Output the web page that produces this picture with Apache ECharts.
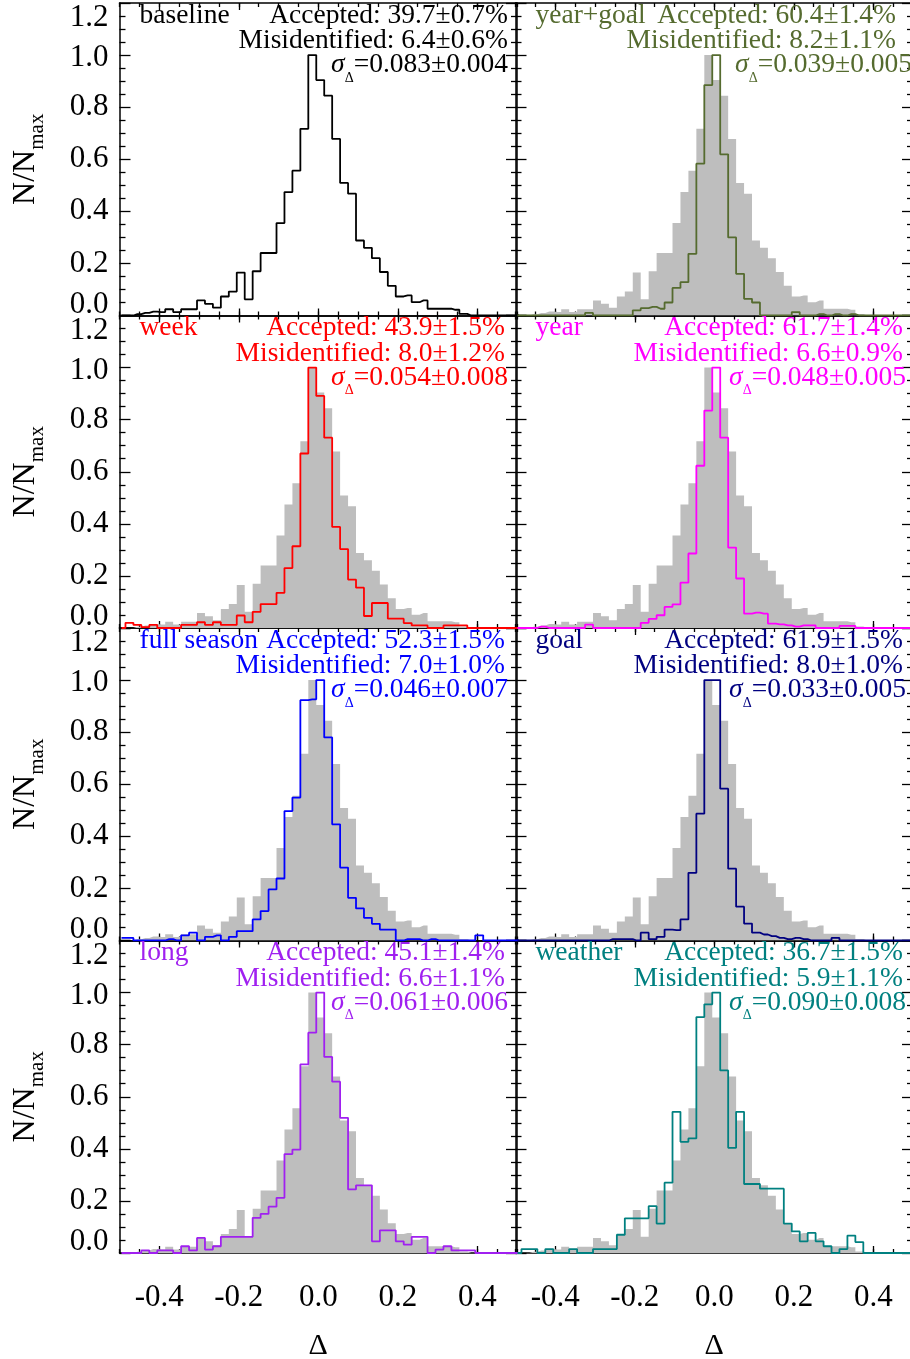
<!DOCTYPE html>
<html><head><meta charset="utf-8">
<script src="https://cdn.jsdelivr.net/npm/echarts@6/dist/echarts.min.js"></script>
<style>html,body{margin:0;padding:0;background:#fff}#c{width:910px;height:1359px}</style>
</head><body><div id="c"></div>
<script>
// ---- data (bin centres of the 0.02-wide histogram bins) ----
const binCenters = [-0.495,-0.475,-0.455,-0.435,-0.415,-0.395,-0.375,-0.355,-0.335,-0.315,
  -0.295,-0.275,-0.255,-0.235,-0.215,-0.195,-0.175,-0.155,-0.135,-0.115,
  -0.095,-0.075,-0.055,-0.035,-0.015,0.005,0.025,0.045,0.065,0.085,
  0.105,0.125,0.145,0.165,0.185,0.205,0.225,0.245,0.265,0.285,
  0.305,0.325,0.345,0.365,0.385,0.405,0.425,0.445,0.465,0.485,0.505];

const baseline = [0,0,0.005,0.01,0.015,0.013,0.024,0.013,0.024,0.024,
  0.058,0.045,0.03,0.073,0.092,0.165,0.062,0.17,0.24,0.24,
  0.355,0.474,0.556,0.717,1.0,0.904,0.844,0.678,0.509,0.468,
  0.288,0.26,0.22,0.167,0.114,0.073,0.077,0.051,0.058,0.026,
  0.026,0.026,0.022,0.006,0,0,0,0,0,0,0];

const yearGoal = [0,0,0,0,0,0,0,0,0,0.01,
  0,0,0,0,0,0.02,0.028,0.033,0.026,0.05,
  0.106,0.128,0.237,0.583,0.885,1.0,0.619,0.30,0.16,0.064,
  0.05,0,0,0,0,0.013,0,0,0.005,0,
  0.005,0,0.005,0,0,0,0,0,0,0,0];

const week = [0,0.02,0.012,0.003,0.012,0,0,0,0.012,0.012,
  0.022,0.012,0.022,0.012,0.012,0.048,0.022,0.062,0.092,0.092,
  0.135,0.23,0.314,0.67,1.0,0.891,0.731,0.388,0.303,0.186,
  0.155,0.046,0.096,0.096,0.036,0.036,0.019,0.01,0.01,0,
  0,0.01,0.01,0.01,0,0,0,0,0,0,0];

const year = [0,0,0,0.005,0,0,0,0,0,0.013,
  0,0,0,0,0,0,0.02,0.035,0.049,0.081,
  0.091,0.174,0.286,0.623,0.835,1.0,0.731,0.309,0.19,0.055,
  0.059,0.055,0.017,0.014,0.01,0.005,0.01,0.01,0,0,
  0,0.008,0.008,0,0,0,0,0,0,0,0];

const fullSeason = [0.01,0.01,0,0,0,0,0.005,0,0.02,0.03,
  0,0.014,0.02,0,0.014,0.036,0.036,0.081,0.113,0.196,
  0.238,0.497,0.549,0.923,0.926,1.0,0.78,0.446,0.28,0.164,
  0.123,0.087,0.064,0.042,0.042,0,0.005,0.005,0,0.005,
  0,0,0,0,0,0.02,0,0,0,0,0];

const goal = [0,0,0,0,0,0,0,0,0,0,
  0,0,0.005,0.005,0.005,0,0.03,0.005,0.014,0.042,
  0.04,0.081,0.26,0.487,1.0,1.0,0.583,0.276,0.13,0.065,
  0.03,0.023,0.017,0.01,0.005,0.01,0.005,0,0,0,
  0.01,0,0,0,0,0,0,0,0,0,0];

const longSeries = [0,0,0,0.01,0,0.01,0.01,0,0.026,0.01,
  0.058,0.013,0.026,0.062,0.062,0.062,0.062,0.135,0.15,0.178,
  0.212,0.38,0.397,0.724,0.846,1.0,0.753,0.658,0.519,0.244,
  0.26,0.26,0.045,0.087,0.087,0.045,0.032,0.062,0.062,0,
  0.013,0.026,0.01,0.01,0.01,0,0,0,0,0,0];

const weather = [0,0.015,0.015,0,0.015,0,0,0.015,0,0,
  0.015,0.015,0.015,0.07,0.133,0.133,0.133,0.18,0.113,0.27,
  0.542,0.427,0.44,0.906,0.955,1.0,0.701,0.404,0.542,0.265,
  0.265,0.247,0.247,0.247,0.113,0.083,0.045,0.077,0.045,0.026,
  0,0.015,0.067,0.042,0,0,0,0,0,0,0];

const panelNames = ['baseline','year+goal','week','year','full season','goal','long','weather'];
const acceptedText = ['Accepted: 39.7±0.7%','Accepted: 60.4±1.4%','Accepted: 43.9±1.5%','Accepted: 61.7±1.4%',
  'Accepted: 52.3±1.5%','Accepted: 61.9±1.5%','Accepted: 45.1±1.4%','Accepted: 36.7±1.5%'];
const misidText = ['Misidentified: 6.4±0.6%','Misidentified: 8.2±1.1%','Misidentified: 8.0±1.2%','Misidentified: 6.6±0.9%',
  'Misidentified: 7.0±1.0%','Misidentified: 8.0±1.0%','Misidentified: 6.6±1.1%','Misidentified: 5.9±1.1%'];
const sigmaValue = ['=0.083±0.004','=0.039±0.005','=0.054±0.008','=0.048±0.005',
  '=0.046±0.007','=0.033±0.005','=0.061±0.006','=0.090±0.008'];
const xTickValues = [-0.4,-0.2,0.0,0.2,0.4];
const panelData = [baseline, yearGoal, week, year, fullSeason, goal, longSeries, weather];

// ---- styles / layout ----
const colors = ['#000000','#556B2F','#FF0000','#FF00FF','#0000FF','#000080','#A020F0','#008080'];
const FONT = '"Liberation Serif","Times New Roman",serif';
const colLeft = [119.5, 515.5], gridW = 397.5;
const rowTop = [3, 315.5, 628, 940.5], gridH = 312.5;
const accRight = [508, 896, 505, 903, 505, 903, 505, 903];
const sigRight = [508, 912, 508, 906, 508, 906, 508, 906];

const chart = echarts.init(document.getElementById('c'), null, {renderer:'canvas'});
const grid = [], xAxis = [], yAxis = [], series = [], graphic = [];
const black = {color:'#000', width:1.5};
const tickStyle = {color:'#000', width:1.3};

for (let g = 0; g < 8; g++) {
  const col = g % 2, row = Math.floor(g / 2);
  grid.push({left: colLeft[col], top: rowTop[row], width: gridW, height: gridH,
    containLabel:false, outerBoundsMode:'none'});
  const bottomRow = row === 3;
  const mkMajorX = (pos, showLabel) => ({
    type:'value', gridIndex:g, position:pos, min:-0.5, max:0.5,
    axisLine:{show:true, onZero:false, lineStyle:black},
    axisTick:{show:true, inside:true, length:7, customValues:xTickValues, lineStyle:tickStyle},
    axisLabel:{show:showLabel, customValues:xTickValues, formatter:v=>v.toFixed(1),
      fontSize:31, fontFamily:FONT, color:'#000', margin:29},
    splitLine:{show:false},
    name: showLabel ? 'Δ' : '', nameLocation:'middle', nameGap:78,
    nameTextStyle:{fontSize:30, fontFamily:FONT, color:'#000'}
  });
  const mkMinorX = (pos) => ({
    type:'value', gridIndex:g, position:pos, min:-0.5, max:0.5, interval:0.05,
    axisLine:{show:false, onZero:false},
    axisTick:{show:true, inside:true, length:4, lineStyle:tickStyle},
    axisLabel:{show:false}, splitLine:{show:false}
  });
  xAxis.push(mkMajorX('bottom', bottomRow));   // 4g
  xAxis.push(mkMajorX('top', false));          // 4g+1
  xAxis.push(mkMinorX('bottom'));              // 4g+2
  xAxis.push(mkMinorX('top'));                 // 4g+3
  const mkY = (pos, showLabel) => ({
    type:'value', gridIndex:g, position:pos, min:0, max:1.2, interval:0.2,
    axisLine:{show:true, onZero:false, lineStyle:black},
    axisTick:{show:true, inside:true, length:11, lineStyle:tickStyle},
    minorTick:{show:true, splitNumber:4, length:6, lineStyle:tickStyle},
    splitLine:{show:false},
    axisLabel:{show:showLabel, fontSize:31, fontFamily:FONT, color:'#000', margin:11,
      formatter: v => {
        const s = v.toFixed(1);
        if (Math.abs(v - 1.2) < 1e-6) return '{t|' + s + '}';
        if (Math.abs(v - 1.0) < 1e-6) return '{u|' + s + '}';
        if (Math.abs(v) < 1e-6) return '{b|' + s + '}';
        return s;
      },
      rich:{
        t:{fontSize:31, fontFamily:FONT, color:'#000', padding:[30,0,0,0]},
        u:{fontSize:31, fontFamily:FONT, color:'#000', padding:[6,0,0,0]},
        b:{fontSize:31, fontFamily:FONT, color:'#000', padding:[0,0,22,0]}
      }},
    name: showLabel ? '{n|N/N}{s|max}' : '', nameLocation:'middle', nameGap:72, nameRotate:90,
    nameTextStyle:{rich:{
      n:{fontSize:32, fontFamily:FONT, color:'#000', lineHeight:44},
      s:{fontSize:21, fontFamily:FONT, color:'#000', verticalAlign:'bottom'}
    }}
  });
  yAxis.push(mkY('left', col === 0));   // 2g
  yAxis.push(mkY('right', false));      // 2g+1

  const pts = arr => binCenters.map((x, i) => [x, arr[i]]);
  if (g > 0) {
    series.push({type:'line', xAxisIndex:4*g, yAxisIndex:2*g, data:pts(baseline), step:'middle',
      symbol:'none', lineStyle:{width:0, color:'#BEBEBE'}, areaStyle:{color:'#BEBEBE', opacity:1},
      z:2, silent:true});
  }
  series.push({type:'line', xAxisIndex:4*g, yAxisIndex:2*g, data:pts(panelData[g]), step:'middle',
    symbol:'none', lineStyle:{width:1.8, color:colors[g]}, z:3, silent:true});

  const top = rowTop[row];
  const fs = 27.5;
  graphic.push({type:'text', z:50, x: colLeft[col] + 20, y: top + 12.5,
    style:{text: panelNames[g], fontSize:fs, fontFamily:FONT, fill:colors[g], align:'left', verticalAlign:'middle'}});
  graphic.push({type:'text', z:50, x: accRight[g], y: top + 12.5,
    style:{text: acceptedText[g], fontSize:fs, fontFamily:FONT, fill:colors[g], align:'right', verticalAlign:'middle'}});
  graphic.push({type:'text', z:50, x: accRight[g], y: top + 38,
    style:{text: misidText[g], fontSize:fs, fontFamily:FONT, fill:colors[g], align:'right', verticalAlign:'middle'}});
  graphic.push({type:'text', z:50, x: sigRight[g], y: top + 62,
    style:{text: '{s|σ}{d|Δ}{m|' + sigmaValue[g] + '}', align:'right', verticalAlign:'middle',
      rich:{
        s:{fontSize:fs, fontFamily:FONT, fontStyle:'italic', fill:colors[g], lineHeight:40},
        d:{fontSize:14, fontFamily:FONT, fill:colors[g], verticalAlign:'bottom'},
        m:{fontSize:fs, fontFamily:FONT, fill:colors[g], lineHeight:40}
      }}});
}

chart.setOption({
  animation:false, backgroundColor:'#fff',
  grid, xAxis, yAxis, series, graphic
});
</script></body></html>
